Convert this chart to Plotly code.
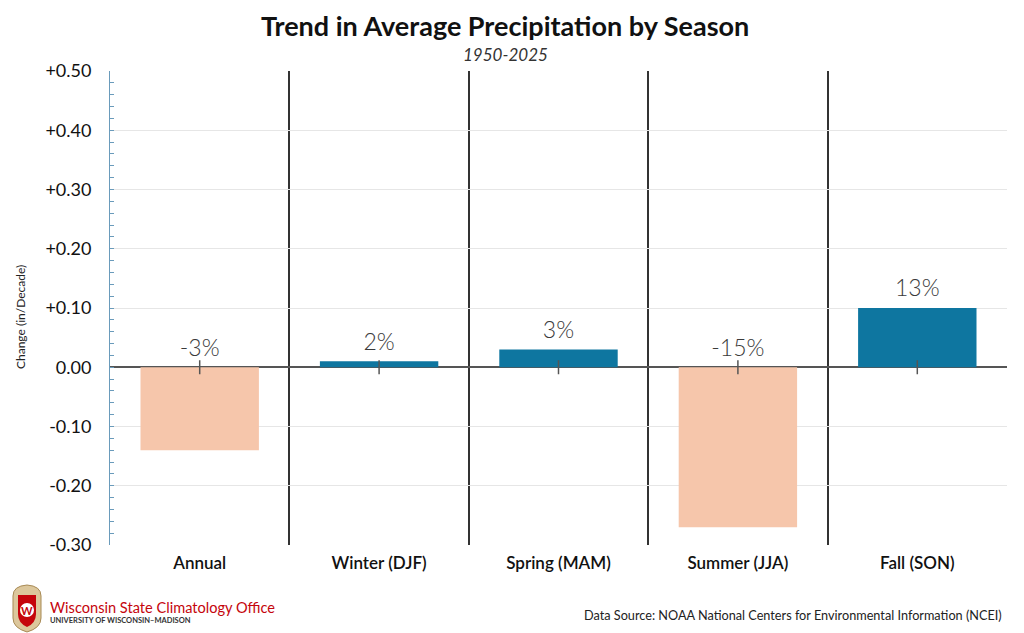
import plotly.graph_objects as go

# Datos
seasons = ["Annual", "Winter (DJF)", "Spring (MAM)", "Summer (JJA)", "Fall (SON)"]
trend = [-0.14, 0.01, 0.03, -0.27, 0.10]
pct_labels = ["-3%", "2%", "3%", "-15%", "13%"]
ytick_vals = [-0.30, -0.20, -0.10, 0.00, 0.10, 0.20, 0.30, 0.40, 0.50]
ytick_text = ["-0.30", "-0.20", "-0.10", "0.00", "+0.10", "+0.20", "+0.30", "+0.40", "+0.50"]

BLUE = "#0e76a0"
PEACH = "#f6c6ab"
FONT = "Lato"

# la pagina tiene un margen de 8px en el body
OFF = 8
W, H = 1024 - OFF, 633 - OFF
ML, MR, MT, MB = 110 - OFF, 17, 71 - OFF, 88


def px(sx, sy):
    # pixel de pantalla -> coordenadas paper
    fx, fy = sx - OFF, sy - OFF
    return (fx - ML) / (W - ML - MR), (H - MB - fy) / (H - MT - MB)


def path(cmds):
    out = []
    for c in cmds:
        if isinstance(c, str):
            out.append(c)
        else:
            x, y = px(*c)
            out.append(f"{x:.5f},{y:.5f}")
    return " ".join(out)


bar_colors = [BLUE if v >= 0 else PEACH for v in trend]
label_y = [max(v, 0) for v in trend]

fig = go.Figure()
fig.add_trace(go.Bar(
    x=seasons, y=trend, marker=dict(color=bar_colors, line=dict(width=0)),
    width=0.66, hoverinfo="x+y"))
fig.add_trace(go.Scatter(
    x=seasons, y=[0] * len(seasons), mode="markers",
    marker=dict(symbol="line-ns-open", size=10, color="#555", line=dict(color="#555", width=1.5)),
    hoverinfo="skip"))
fig.add_trace(go.Scatter(
    x=seasons, y=label_y, mode="markers+text", text=pct_labels, textposition="top center",
    marker=dict(size=8, color="rgba(0,0,0,0)"),
    textfont=dict(family=FONT, size=23, color="#3a3a3a", weight=300), hoverinfo="skip"))

# Escudo aproximado del logo
crest = path(["M", (13, 596), "Q", (13, 586), (27, 585), "Q", (41, 586), (41, 596),
              "L", (41, 618), "Q", (41, 628), (27, 632), "Q", (13, 628), (13, 618), "Z"])
shield = path(["M", (18, 595), "L", (36, 595), "L", (36, 614), "Q", (36, 623), (27, 627),
               "Q", (18, 623), (18, 614), "Z"])
fig.add_shape(type="path", xref="paper", yref="paper", path=crest,
              fillcolor="#dcc79c", line=dict(color="#a88a55", width=1), layer="above")
fig.add_shape(type="path", xref="paper", yref="paper", path=shield,
              fillcolor="#c5050c", line=dict(width=0), layer="above")
cx0, cy0 = px(20, 603)
cx1, cy1 = px(34, 617)
fig.add_shape(type="circle", xref="paper", yref="paper", x0=cx0, y0=cy0, x1=cx1, y1=cy1,
              fillcolor="white", line=dict(width=0), layer="above")
lx, ly = px(27, 610)
fig.add_annotation(text="<b>W</b>", x=lx, y=ly, xref="paper", yref="paper", showarrow=False,
                   xanchor="center", yanchor="middle",
                   font=dict(family=FONT, size=11, color="#c5050c"))

lx, ly = px(48, 607)
fig.add_annotation(text="Wisconsin State Climatology Office", x=lx, y=ly, xref="paper", yref="paper",
                   xanchor="left", yanchor="middle", showarrow=False,
                   font=dict(family=FONT, size=14.6, color="#c5050c"))
lx, ly = px(48, 620)
fig.add_annotation(text="<b>UNIVERSITY OF WISCONSIN–MADISON</b>", x=lx, y=ly, xref="paper", yref="paper",
                   xanchor="left", yanchor="middle", showarrow=False,
                   font=dict(family=FONT, size=7.5, color="#333"))
lx, ly = px(1004, 615)
fig.add_annotation(text="Data Source: NOAA National Centers for Environmental Information (NCEI)",
                   x=lx, y=ly, xref="paper", yref="paper", xanchor="right", yanchor="middle",
                   showarrow=False, font=dict(family=FONT, size=12.7, color="#222"))
lx, ly = px(20, 317)
fig.add_annotation(text="Change (in/Decade)", x=lx, y=ly, xref="paper", yref="paper", textangle=-90,
                   xanchor="center", yanchor="middle", showarrow=False,
                   font=dict(family=FONT, size=12, color="#222"))
lx, ly = px(505, 54)
fig.add_annotation(text="<i>1950-2025</i>", x=lx, y=ly, xref="paper", yref="paper", showarrow=False,
                   xanchor="center", yanchor="middle",
                   font=dict(family=FONT, size=17, color="#333"))
lx, ly = px(505, 26)
fig.add_annotation(text="<b>Trend in Average Precipitation by Season</b>", x=lx, y=ly,
                   xref="paper", yref="paper", showarrow=False, xanchor="center", yanchor="middle",
                   font=dict(family=FONT, size=27, color="#111"))

fig.update_layout(
    width=W, height=H,
    margin=dict(l=ML, r=MR, t=MT, b=MB),
    paper_bgcolor="white", plot_bgcolor="white",
    showlegend=False,
    font=dict(family=FONT),
)
fig.update_xaxes(
    type="category", range=[-0.5, 4.5], tickson="boundaries", ticks="",
    showgrid=True, gridcolor="#333", gridwidth=2, showline=False, zeroline=False,
    tickfont=dict(family=FONT, size=17, color="#111", weight=600), ticklabelstandoff=6,
)
fig.update_yaxes(
    range=[-0.30, 0.50], tickvals=ytick_vals, ticktext=ytick_text,
    showgrid=True, gridcolor="#e6e6e6", gridwidth=1,
    zeroline=True, zerolinecolor="#555", zerolinewidth=1.5,
    showline=True, linecolor="#6a9bbb", linewidth=1,
    ticks="inside", ticklen=4, tickcolor="#6a9bbb",
    minor=dict(dtick=0.02, ticks="inside", ticklen=4, tickcolor="#6a9bbb"),
    tickfont=dict(family=FONT, size=18, color="#111"), ticklabelstandoff=14,
)

fig.write_html("out.html")
